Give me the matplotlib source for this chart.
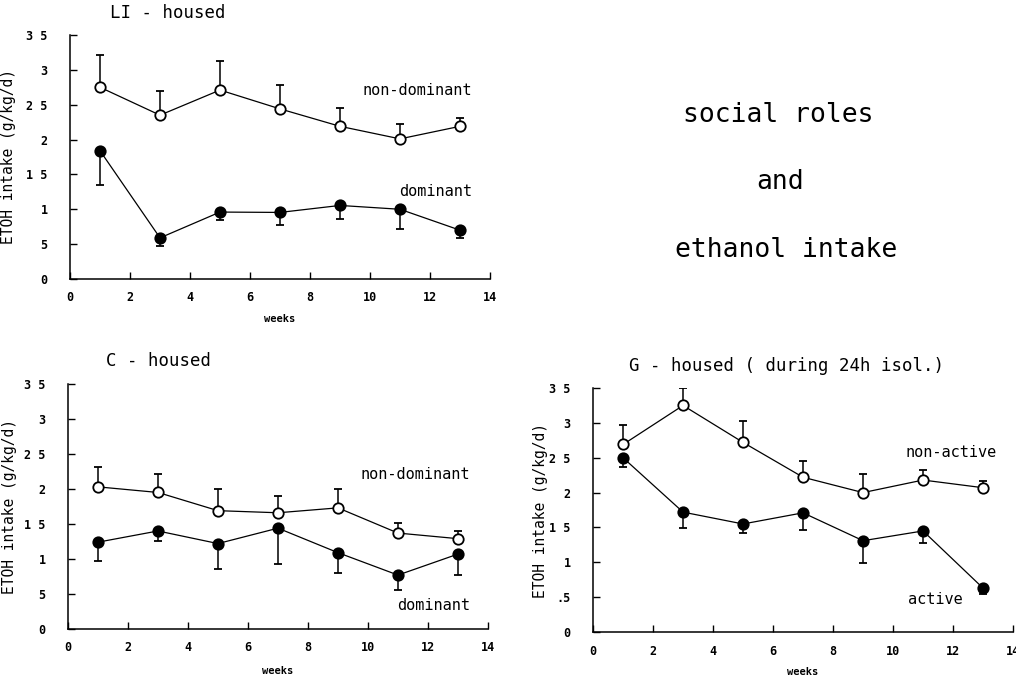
import matplotlib
matplotlib.use("Agg")
import matplotlib.pyplot as plt

weeks = [1, 3, 5, 7, 9, 11, 13]

# LI - housed
li_nondom = [2.75, 2.35, 2.71, 2.44, 2.19, 2.01, 2.19]
li_nondom_err = [0.46, 0.35, 0.41, 0.34, 0.26, 0.22, 0.12]
li_dom = [1.84, 0.59, 0.96, 0.955, 1.055, 1.00, 0.70]
li_dom_err = [0.49, 0.11, 0.12, 0.18, 0.20, 0.28, 0.11]

# C - housed
c_nondom = [2.03, 1.95, 1.69, 1.66, 1.73, 1.37, 1.29]
c_nondom_err = [0.28, 0.27, 0.31, 0.24, 0.27, 0.14, 0.11]
c_dom = [1.24, 1.40, 1.22, 1.44, 1.09, 0.77, 1.07]
c_dom_err = [0.27, 0.14, 0.36, 0.51, 0.29, 0.21, 0.30]

# G - housed (during 24h isol.)
g_nonact = [2.69, 3.25, 2.72, 2.22, 2.00, 2.18, 2.07]
g_nonact_err = [0.28, 0.25, 0.31, 0.24, 0.26, 0.14, 0.09]
g_act = [2.50, 1.72, 1.55, 1.71, 1.31, 1.45, 0.63]
g_act_err = [0.13, 0.23, 0.13, 0.25, 0.32, 0.17, 0.08]

xticks = [0, 2, 4, 6, 8, 10, 12, 14]
yticks = [0, 0.5, 1, 1.5, 2, 2.5, 3, 3.5]
ylabels_a = ["0", "5", "1", "1 5", "2", "2 5", "3", "3 5"]
ylabels_b = ["0", ".5", "1", "1 5", "2", "2 5", "3", "3 5"]

MONO = "DejaVu Sans Mono"

fig = plt.figure(figsize=(10.16, 6.78), dpi=100)


def panel(rect, title, title_x, upper, upper_err, lower, lower_err,
          up_lbl, up_pos, lo_lbl, lo_pos, ylabels, ylab_x, xlab_y):
    ax = fig.add_axes(rect)
    z = [0] * len(weeks)
    ax.errorbar(weeks, upper, yerr=[z, upper_err], fmt="-o", color="black",
                mfc="white", mec="black", ms=7.5, mew=1.3, lw=0.9,
                elinewidth=1.1, capsize=3, capthick=1.1)
    ax.errorbar(weeks, lower, yerr=[lower_err, z], fmt="-o", color="black",
                mfc="black", mec="black", ms=7.5, mew=1.3, lw=0.9,
                elinewidth=1.1, capsize=3, capthick=1.1)
    ax.set_xlim(0, 14)
    ax.set_ylim(0, 3.5)
    ax.set_xticks(xticks)
    ax.set_xticklabels([str(t) for t in xticks], fontfamily=MONO,
                       fontweight="bold", fontsize=8.5)
    ax.set_yticks(yticks)
    ax.set_yticklabels(ylabels, fontfamily=MONO, fontweight="bold",
                       fontsize=8.5)
    ax.tick_params(axis="x", direction="in", length=5, width=1, pad=9)
    ax.tick_params(axis="y", direction="in", length=5, width=1, pad=16)
    for s in ["top", "right"]:
        ax.spines[s].set_visible(False)
    for s in ["left", "bottom"]:
        ax.spines[s].set_linewidth(1.1)
    ax.set_ylabel("ETOH intake (g/kg/d)", fontfamily=MONO, fontsize=10.5)
    ax.yaxis.set_label_coords(ylab_x, 0.5)
    ax.set_xlabel("weeks", fontfamily=MONO, fontweight="bold", fontsize=7.5)
    ax.xaxis.set_label_coords(0.5, xlab_y)
    ax.text(title_x, 1.055, title, transform=ax.transAxes, fontfamily=MONO,
            fontsize=12.5, ha="left", va="bottom")
    ax.text(up_pos[0], up_pos[1], up_lbl, fontfamily=MONO, fontsize=11,
            ha="right", va="center")
    ax.text(lo_pos[0], lo_pos[1], lo_lbl, fontfamily=MONO, fontsize=11,
            ha="right", va="center")
    return ax


panel([0.0689, 0.5885, 0.4134, 0.3599], "LI - housed", 0.095,
      li_nondom, li_nondom_err, li_dom, li_dom_err,
      "non-dominant", (13.4, 2.71), "dominant", (13.4, 1.26), ylabels_a,
      -0.128, -0.143)

panel([0.0669, 0.0723, 0.4134, 0.3614], "C - housed", 0.09,
      c_nondom, c_nondom_err, c_dom, c_dom_err,
      "non-dominant", (13.4, 2.21), "dominant", (13.4, 0.34), ylabels_a,
      -0.122, -0.152)

panel([0.5837, 0.0678, 0.4134, 0.3599], "G - housed ( during 24h isol.)", 0.085,
      g_nonact, g_nonact_err, g_act, g_act_err,
      "non-active", (13.47, 2.58), "active", (12.33, 0.46), ylabels_b,
      -0.108, -0.143)

fig.text(0.766, 1 - 115 / 678, "social roles", fontfamily=MONO, fontsize=19,
         ha="center", va="center")
fig.text(0.768, 1 - 182 / 678, "and", fontfamily=MONO, fontsize=19,
         ha="center", va="center")
fig.text(0.774, 1 - 250 / 678, "ethanol intake", fontfamily=MONO, fontsize=19,
         ha="center", va="center")

fig.savefig("out.png", dpi=100)
